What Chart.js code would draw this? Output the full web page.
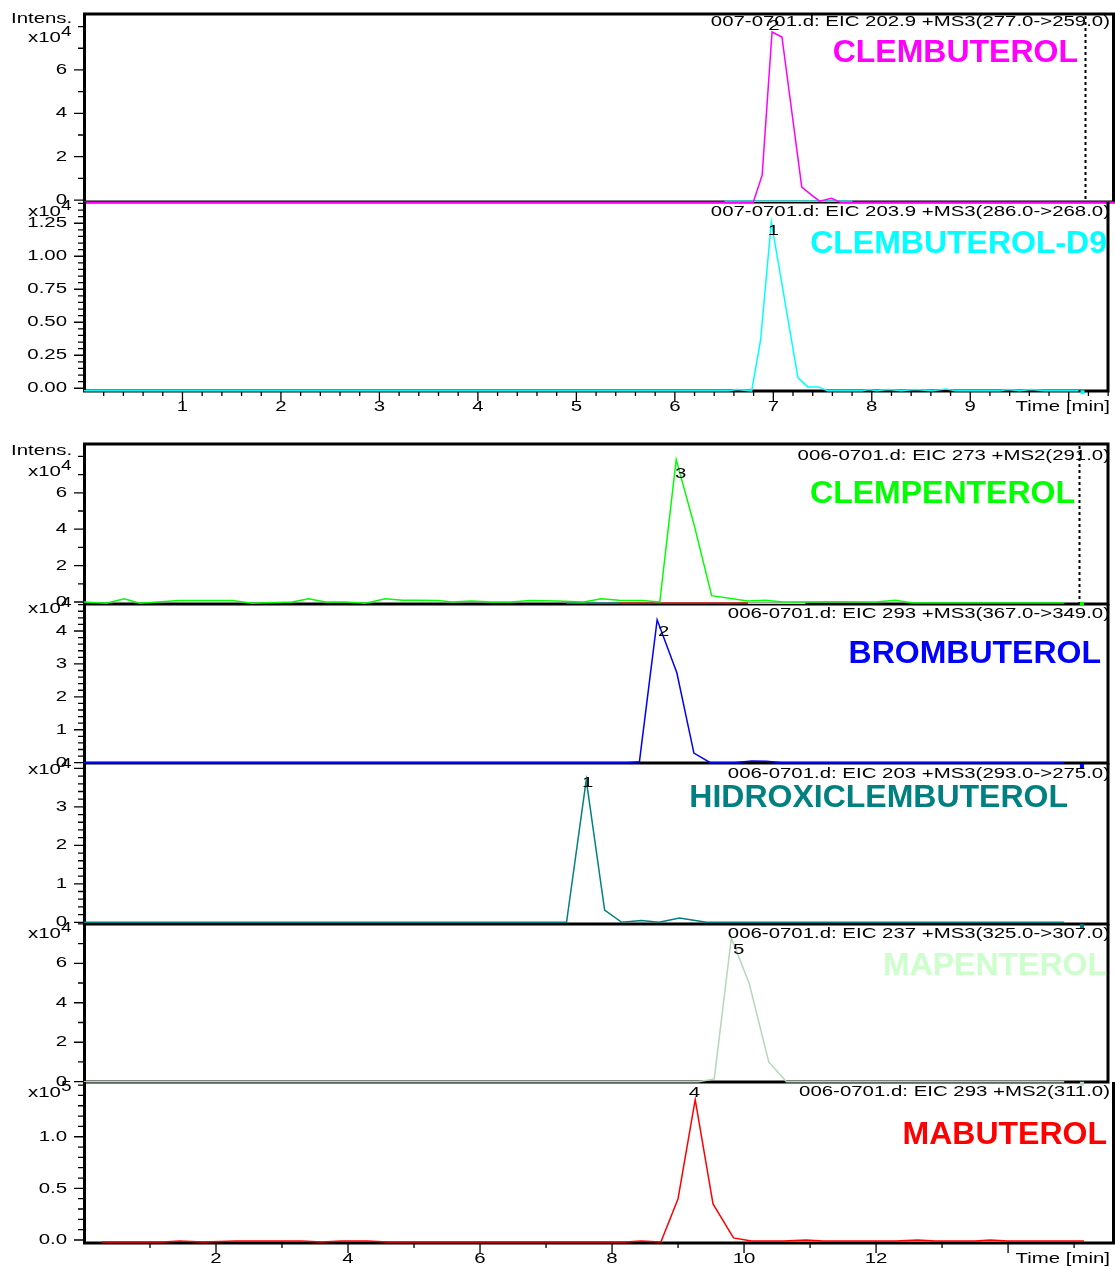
<!DOCTYPE html>
<html>
<head>
<meta charset="utf-8">
<title>EIC chromatograms</title>
<script src="https://cdn.jsdelivr.net/npm/chart.js@4.4.1/dist/chart.umd.min.js"></script>
<style>
  html, body { margin: 0; padding: 0; background: #fff; }
  #wrap { position: relative; width: 1115px; height: 1268px; overflow: hidden; }
  #wrap canvas { position: absolute; left: 0; }
</style>
</head>
<body>
<div id="wrap"></div>
<script>
// ======================
// DATA  (time in min, intensity in units of the panel's x10^n)
// ======================

// run 007-0701.d
const clembTime = [0, 6.76, 6.85, 6.95, 7.05, 7.25, 7.35, 7.43, 7.55, 7.64, 10.41];
const clembInt  = [-0.1, -0.1, 1.15, 7.75, 7.52, 0.6, 0.23, -0.05, 0.08, -0.1, -0.1];
const d9StubTime = [6.47, 7.76];
const d9StubInt  = [-0.05, -0.05];

const d9Time = [0, 6.55, 6.63, 6.78, 6.87, 6.98, 7.25, 7.35, 7.46, 7.55, 7.9, 7.97, 8.05, 8.17, 8.3, 8.44, 8.61, 8.75, 8.85, 9.3, 9.38, 9.5, 9.62, 9.75, 10.1];
const d9Int  = [-0.02, -0.02, -0.01, -0.02, 0.36, 1.26, 0.08, 0.01, 0.01, -0.02, -0.02, -0.01, -0.02, -0.01, -0.02, -0.01, -0.02, -0.005, -0.02, -0.02, -0.01, -0.02, -0.01, -0.02, -0.02];
const d9EndTime = [10.14];
const d9EndInt  = [-0.03];

// run 006-0701.d
const clempTime = [0, 0.34, 0.61, 0.85, 1.45, 2.26, 2.56, 3.17, 3.42, 3.68, 3.98, 4.29, 4.59, 4.85, 5.1, 5.4, 5.6, 5.9, 6.2, 6.5, 6.8, 7.2, 7.61, 7.88, 8.15, 8.5, 8.77, 9.02, 9.30, 9.56, 10.11, 10.38, 10.64, 11.5, 12.06, 12.36, 12.63, 14.93];
const clempInt  = [0, -0.07, 0.18, -0.07, 0.08, 0.08, -0.07, 0, 0.18, 0, 0, -0.07, 0.18, 0.1, 0.1, 0.08, 0, 0.05, 0, 0, 0.08, 0.05, 0, 0.18, 0.1, 0.08, 0, 7.82, 4.14, 0.35, 0.05, 0.1, 0, 0.02, 0, 0.1, -0.05, -0.05];
const tealStubTime = [7.35, 8.15];
const redStubTime  = [8.15, 10.11];
const grayStubTime = [10.11, 10.99];
const stubInt      = [-0.07, -0.07];

const bromTime = [0, 8.27, 8.46, 8.73, 9.03, 9.29, 9.54, 9.9, 10.17, 10.4, 10.63, 14.93];
const bromInt  = [0, 0, 0.03, 4.34, 2.73, 0.29, 0, 0, 0.05, 0.04, 0, 0];

const hidroTime = [0, 7.35, 7.65, 7.93, 8.19, 8.49, 8.76, 9.07, 9.48, 14.93];
const hidroInt  = [0, 0, 3.70, 0.32, 0, 0.05, 0, 0.11, 0, 0];

const mapenTime = [0, 9.36, 9.60, 9.86, 10.13, 10.43, 10.70, 14.93];
const mapenInt  = [0, 0, 0.14, 7.28, 5.0, 1.0, 0, 0];

const mabutTime = [0.27, 1.2, 1.45, 1.8, 2.3, 2.6, 3.0, 3.3, 3.6, 3.9, 4.3, 4.6, 8.2, 8.44, 8.74, 9.00, 9.26, 9.53, 9.84, 10.11, 10.6, 10.94, 11.2, 12.3, 12.63, 12.9, 13.5, 13.73, 14.0, 15.15];
const mabutInt  = [-0.02, -0.02, -0.01, -0.02, -0.01, -0.01, -0.01, -0.01, -0.02, -0.01, -0.01, -0.02, -0.02, -0.01, -0.02, 0.40, 1.36, 0.35, 0.02, -0.01, -0.01, 0.0, -0.01, -0.01, 0.0, -0.01, -0.01, 0.0, -0.01, -0.01];

const endDotTime = [15.2];
const endDotInt  = [-0.1];

// peak numbers (retention times)
const peakTimes  = [6.97, 7.0, 9.09, 8.83, 7.67, 9.97, 9.25];
const peakNums   = ["2", "1", "3", "2", "1", "5", "4"];

// tick values / labels
const timeTicksA  = [1, 2, 3, 4, 5, 6, 7, 8, 9, 10];
const timeLabelsA = ["1", "2", "3", "4", "5", "6", "7", "8", "9", ""];
const timeTicksB  = [2, 4, 6, 8, 10, 12, 14];
const timeLabelsB = ["2", "4", "6", "8", "10", "12", ""];

const evenTicks   = [0, 2, 4, 6];
const evenLabels  = ["0", "2", "4", "6"];
const quarterTicks  = [0, 0.25, 0.5, 0.75, 1.0, 1.25];
const quarterLabels = ["0.00", "0.25", "0.50", "0.75", "1.00", "1.25"];
const unitTicks4  = [0, 1, 2, 3, 4];
const unitLabels4 = ["0", "1", "2", "3", "4"];
const unitLabels3 = ["0", "1", "2", "3", ""];
const halfTicks   = [0, 0.5, 1.0];
const halfLabels  = ["0.0", "0.5", "1.0"];

const titles = [
  "007-0701.d: EIC 202.9 +MS3(277.0->259.0)",
  "007-0701.d: EIC 203.9 +MS3(286.0->268.0)",
  "006-0701.d: EIC 273 +MS2(291.0)",
  "006-0701.d: EIC 293 +MS3(367.0->349.0)",
  "006-0701.d: EIC 203 +MS3(293.0->275.0)",
  "006-0701.d: EIC 237 +MS3(325.0->307.0)",
  "006-0701.d: EIC 293 +MS2(311.0)"
];
const compounds = ["CLEMBUTEROL", "CLEMBUTEROL-D9", "CLEMPENTEROL", "BROMBUTEROL", "HIDROXICLEMBUTEROL", "MAPENTEROL", "MABUTEROL"];

// ======================
// STYLE / LAYOUT
// ======================
const MAGENTA = "#ff00ff", CYAN = "#00ffff", GREEN = "#00ff00", BLUE = "#0000ff",
      TEAL = "#008080", PALE = "#b4d8b4", PALE_TXT = "#ccffcc", RED = "#ff0000";
const FONT = "'Liberation Sans', Arial, sans-serif";
const SX = 1.36;          // the instrument font is drawn wide
const PAD_T = 14, PAD_B = 14, AXIS_B = 32;

const GROUPS = {
  A: { xMin: 0, xMax: 10.414, ticks: timeTicksA, labels: timeLabelsA, minor: 0.2, dashAt: 10.11 },
  B: { xMin: 0, xMax: 15.62,  ticks: timeTicksB, labels: timeLabelsB, minor: 1,   dashAt: 15.15 }
};

const ser = (t, v, color, dot) => ({ t, v, color, dot: !!dot });

const PANELS = [
  { g: "A", top: 14, bottom: 202, yMin: -0.09, yMax: 8.58, yt: evenTicks, yl: evenLabels, yMinor: 1, yMinorMax: 8,
    exp: "4", expY: 38, intens: 19, titleY: 22, nameColor: MAGENTA, nameR: 1078, nameY: 52, peakY: 26,
    frameTop: true, dash: true, axis: false,
    series: [ser(clembTime, clembInt, MAGENTA), ser(d9StubTime, d9StubInt, CYAN)] },
  { g: "A", top: 202, bottom: 391, yMin: -0.021, yMax: 1.411, yt: quarterTicks, yl: quarterLabels, yMinor: 0.05, yMinorMax: 1.4,
    exp: "4", expY: 212, titleY: 212, nameColor: CYAN, nameR: 1107, nameY: 243, peakY: 231,
    axis: true,
    series: [ser(d9Time, d9Int, CYAN), ser(d9EndTime, d9EndInt, CYAN, true)] },
  { g: "B", top: 444, bottom: 604, yMin: -0.11, yMax: 8.68, yt: evenTicks, yl: evenLabels, yMinor: 1, yMinorMax: 8,
    exp: "4", expY: 472, intens: 451, titleY: 456, nameColor: GREEN, nameR: 1075, nameY: 493, peakY: 474,
    frameTop: true, dash: true, axis: false,
    series: [ser(clempTime, clempInt, GREEN), ser(tealStubTime, stubInt, TEAL), ser(redStubTime, stubInt, RED),
             ser(grayStubTime, stubInt, PALE), ser(endDotTime, endDotInt, GREEN, true)] },
  { g: "B", top: 604, bottom: 763, yMin: -0.01, yMax: 4.82, yt: unitTicks4, yl: unitLabels4, yMinor: 0.2, yMinorMax: 4.8,
    exp: "4", expY: 609, titleY: 614, nameColor: BLUE, nameR: 1101, nameY: 653, peakY: 632,
    axis: false,
    series: [ser(bromTime, bromInt, BLUE), ser(endDotTime, endDotInt, BLUE, true)] },
  { g: "B", top: 763, bottom: 924, yMin: -0.044, yMax: 4.14, yt: unitTicks4, yl: unitLabels3, yMinor: 0.2, yMinorMax: 4.0,
    exp: "4", expY: 770, titleY: 774, nameColor: TEAL, nameR: 1068, nameY: 797, peakY: 783,
    axis: false,
    series: [ser(hidroTime, hidroInt, TEAL), ser(endDotTime, endDotInt, TEAL, true)] },
  { g: "B", top: 924, bottom: 1082, yMin: -0.015, yMax: 7.99, yt: evenTicks, yl: evenLabels, yMinor: 1, yMinorMax: 8,
    exp: "4", expY: 934, titleY: 934, nameColor: PALE_TXT, nameR: 1107, nameY: 965, peakY: 950,
    axis: false,
    series: [ser(mapenTime, mapenInt, PALE), ser(endDotTime, endDotInt, PALE, true)] },
  { g: "B", top: 1082, bottom: 1243, yMin: -0.029, yMax: 1.53, yt: halfTicks, yl: halfLabels, yMinor: 0.1, yMinorMax: 1.5,
    exp: "5", expY: 1093, titleY: 1092, nameColor: RED, nameR: 1107, nameY: 1134, peakY: 1093,
    axis: true,
    series: [ser(mabutTime, mabutInt, RED)] }
];

// ======================
// DRAW HELPERS
// ======================
function wideText(ctx, txt, x, y, align, size, color) {
  ctx.save();
  ctx.font = size + "px " + FONT;
  ctx.fillStyle = color || "#000";
  ctx.textBaseline = "middle";
  ctx.textAlign = "left";
  const w = ctx.measureText(txt).width * SX;
  const x0 = align === "right" ? x - w : align === "center" ? x - w / 2 : x;
  ctx.translate(x0, y);
  ctx.scale(SX, 1);
  ctx.fillText(txt, 0, 0);
  ctx.restore();
  return w;
}

function minorList(step, max, majors) {
  const out = [];
  for (let i = 1; i * step <= max + 1e-9; i++) {
    const v = Math.round(i * step * 1000) / 1000;
    if (!majors.some(m => Math.abs(m - v) < 1e-6)) out.push(v);
  }
  return out;
}

function makeDeco(p, idx, offY) {
  const grp = GROUPS[p.g];
  const Y = (pageY) => pageY - offY;
  return {
    id: "deco" + idx,
    beforeDatasetsDraw(chart) {
      const { ctx, chartArea: ca } = chart;
      const xs = chart.scales.x, ys = chart.scales.y;
      ctx.save();
      // frame
      ctx.strokeStyle = "#000";
      ctx.lineWidth = 3;
      ctx.beginPath();
      ctx.moveTo(ca.left + 0.5, ca.top - (p.frameTop ? 1.5 : 0));
      ctx.lineTo(ca.left + 0.5, ca.bottom + 1.5);
      ctx.moveTo(ca.right - 1.5, ca.top - (p.frameTop ? 1.5 : 0));
      ctx.lineTo(ca.right - 1.5, ca.bottom + 1.5);
      if (p.frameTop) { ctx.moveTo(ca.left - 1, ca.top); ctx.lineTo(ca.right, ca.top); }
      ctx.moveTo(ca.left - 1, ca.bottom);
      ctx.lineTo(ca.right, ca.bottom);
      ctx.stroke();

      // y ticks
      ctx.lineWidth = 1.3;
      ctx.beginPath();
      p.yt.forEach(v => {
        const y = ys.getPixelForValue(v);
        ctx.moveTo(ca.left - 10, y); ctx.lineTo(ca.left, y);
      });
      minorList(p.yMinor, p.yMinorMax, p.yt).forEach(v => {
        const y = ys.getPixelForValue(v);
        ctx.moveTo(ca.left - 6, y); ctx.lineTo(ca.left, y);
      });
      // x ticks
      if (p.axis) {
        grp.ticks.forEach(v => {
          const x = xs.getPixelForValue(v);
          ctx.moveTo(x, ca.bottom); ctx.lineTo(x, ca.bottom + 10);
        });
        minorList(grp.minor, grp.xMax, grp.ticks).forEach(v => {
          const x = xs.getPixelForValue(v);
          ctx.moveTo(x, ca.bottom); ctx.lineTo(x, ca.bottom + 5);
        });
      }
      ctx.stroke();

      // dashed end-of-run marker
      if (p.dash) {
        const x = Math.round(xs.getPixelForValue(grp.dashAt)) + 0.5;
        ctx.setLineDash([3, 3]);
        ctx.lineWidth = 2;
        ctx.beginPath();
        ctx.moveTo(x, ca.top + 2); ctx.lineTo(x, ca.bottom);
        ctx.stroke();
        ctx.setLineDash([]);
      }
      ctx.restore();
    },
    afterDatasetsDraw(chart) {
      const { ctx, chartArea: ca } = chart;
      const xs = chart.scales.x, ys = chart.scales.y;
      // y labels
      p.yt.forEach((v, i) => {
        if (p.yl[i]) wideText(ctx, p.yl[i], ca.left - 17, ys.getPixelForValue(v), "right", 15);
      });
      // exponent
      const w = wideText(ctx, "x10", 28, Y(p.expY), "left", 15);
      wideText(ctx, p.exp, 28 + w, Y(p.expY) - 6, "left", 14);
      if (p.intens) wideText(ctx, "Intens.", 11, Y(p.intens), "left", 15);
      // x labels
      if (p.axis) {
        grp.ticks.forEach((v, i) => {
          if (grp.labels[i]) wideText(ctx, grp.labels[i], xs.getPixelForValue(v), ca.bottom + 16, "center", 15);
        });
        wideText(ctx, "Time [min]", 1110, ca.bottom + 16, "right", 15);
      }
      // trace title, compound name, peak number
      wideText(ctx, titles[idx], 1110, Y(p.titleY), "right", 15);
      ctx.save();
      ctx.font = "bold 32px " + FONT;
      ctx.fillStyle = p.nameColor;
      ctx.textAlign = "right";
      ctx.textBaseline = "middle";
      ctx.fillText(compounds[idx], p.nameR, Y(p.nameY) + 1);
      ctx.restore();
      wideText(ctx, peakNums[idx], xs.getPixelForValue(peakTimes[idx]), Y(p.peakY), "center", 15);
    }
  };
}

// ======================
// BUILD
// ======================
const wrap = document.getElementById("wrap");

PANELS.forEach((p, idx) => {
  const grp = GROUPS[p.g];
  const padB = p.axis ? AXIS_B : PAD_B;
  const offY = p.top - PAD_T;
  const h = (p.bottom - p.top) + PAD_T + padB;

  const cv = document.createElement("canvas");
  cv.width = 1115;
  cv.height = h;
  cv.style.top = offY + "px";
  cv.style.width = "1115px";
  cv.style.height = h + "px";
  wrap.appendChild(cv);

  const datasets = p.series.map(s => ({
    data: s.t.map((t, i) => ({ x: t, y: s.v[i] })),
    borderColor: s.color,
    backgroundColor: s.color,
    borderWidth: 1.5,
    showLine: !s.dot,
    pointRadius: s.dot ? 1.8 : 0,
    pointStyle: "rect",
    tension: 0,
    clip: false
  }));

  new Chart(cv, {
    type: "line",
    data: { datasets },
    options: {
      responsive: false,
      animation: false,
      devicePixelRatio: 1,
      events: [],
      layout: { padding: { left: 84, right: 0, top: PAD_T, bottom: padB } },
      plugins: { legend: { display: false }, tooltip: { enabled: false } },
      scales: {
        x: { type: "linear", display: false, min: grp.xMin, max: grp.xMax },
        y: { type: "linear", display: false, min: p.yMin, max: p.yMax }
      }
    },
    plugins: [makeDeco(p, idx, offY)]
  });
});
</script>
</body>
</html>
